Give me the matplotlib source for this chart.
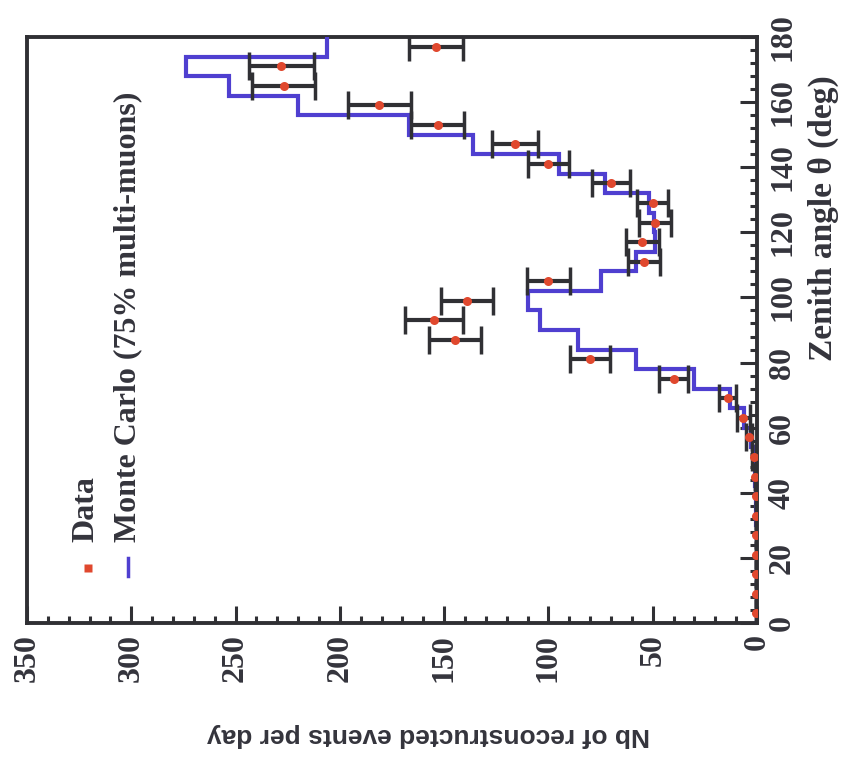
import numpy as np
import matplotlib
matplotlib.use('Agg')
import matplotlib.pyplot as plt
from matplotlib.ticker import MultipleLocator, AutoMinorLocator


# zenith angle bins, 6 degrees wide
bin_edges = np.arange(0, 181, 6)
bin_centers = bin_edges[:-1] + 3

data_values = [0.3, 0.3, 0.3, 0.3, 0.3, 0.4, 0.5, 0.8, 1.5, 4,
               6.5, 14, 40, 80, 145, 155, 139, 100, 54, 55,
               49, 50, 70, 100, 116, 153, 181, 227, 228, 154]
data_errors = [0, 0, 0, 0, 0, 0, 0, 0, 0.8, 1.5,
               3, 4, 7, 9.6, 12.5, 14, 12.5, 10.3, 7.7, 8,
               7.7, 7.5, 9, 10, 11, 12.7, 15, 15, 15.6, 13]
mc_values = [0, 0, 0, 0, 0.2, 0.3, 0.5, 0.8, 1.5, 3,
             6, 13, 30, 58, 86, 104, 110, 75, 58, 49,
             49.5, 52, 73, 95, 136, 167, 220, 253, 274, 206]

TEXT = '#34343c'
SERIF = ['Liberation Serif', 'DejaVu Serif']

fig = plt.figure(figsize=(8.46, 7.67), dpi=100)
W, H = 846, 767
left, right, top, bottom = 27, 757, 37, 623
ax = fig.add_axes([left / W, (H - bottom) / H, (right - left) / W, (bottom - top) / H])

# the figure is shown rotated: counts run right-to-left, zenith bottom-to-top
mc_x = np.repeat(mc_values, 2)
mc_y = np.repeat(bin_edges, 2)[1:-1]
ax.plot(mc_x, mc_y, color='#4f3fd0', lw=3, zorder=3, solid_joinstyle='miter')

ax.errorbar(data_values, bin_centers, xerr=data_errors, fmt='none',
            ecolor='#303034', elinewidth=3, capsize=10, capthick=2.5, zorder=4)
ax.plot(data_values, bin_centers, 'o', color='#e0482e', ms=6.5, mec='none',
        zorder=5)

ax.set_xlim(350, 0)
ax.set_ylim(0, 180)

for side in ax.spines.values():
    side.set_linewidth(2.8)
    side.set_color('#303034')

ax.yaxis.tick_right()
ax.xaxis.set_major_locator(MultipleLocator(50))
ax.xaxis.set_minor_locator(AutoMinorLocator(5))
ax.yaxis.set_major_locator(MultipleLocator(20))
ax.yaxis.set_minor_locator(AutoMinorLocator(5))
ax.tick_params(which='both', direction='in', color='#303034', width=2.2,
               top=False, left=False)
ax.tick_params(which='major', length=12, pad=8)
ax.tick_params(which='minor', length=5)

for lab in ax.get_xticklabels():
    lab.set_rotation(90)
    lab.set_va('top')
    lab.set_ha('center')
for lab in ax.get_yticklabels():
    lab.set_rotation(90)
    lab.set_va('center')
    lab.set_ha('left')
for lab in ax.get_xticklabels() + ax.get_yticklabels():
    lab.set_family(SERIF)
    lab.set_weight('bold')
    lab.set_fontsize(23)
    lab.set_color(TEXT)

fig.text(823 / W, 1 - 75 / H, 'Zenith angle θ (deg)', rotation=90,
         ha='center', va='top', family=SERIF, weight='bold', fontsize=24,
         color=TEXT)
fig.text(428 / W, 1 - 735 / H, 'Nb of reconstructed events per day',
         rotation=180, ha='center', va='center',
         family=['Liberation Sans', 'DejaVu Sans'], weight='bold',
         fontsize=19, color=TEXT)

# legend, drawn by hand because its text is rotated
fig.text(86 / W, 1 - 542 / H, 'Data', rotation=90, ha='center', va='bottom',
         family=SERIF, weight='bold', fontsize=23, color=TEXT)
fig.text(128 / W, 1 - 542 / H, 'Monte Carlo (75% multi-muons)', rotation=90,
         ha='center', va='bottom', family=SERIF, weight='bold', fontsize=23,
         color=TEXT)
fig.lines.append(plt.Line2D([88 / W], [1 - 568 / H], marker='s', ms=5.5,
                            color='#e0482e', mec='none',
                            transform=fig.transFigure))
fig.lines.append(plt.Line2D([128 / W, 128 / W], [1 - 558 / H, 1 - 576 / H],
                            color='#4f3fd0', lw=2.5,
                            transform=fig.transFigure))

fig.savefig('out.png', dpi=100)
